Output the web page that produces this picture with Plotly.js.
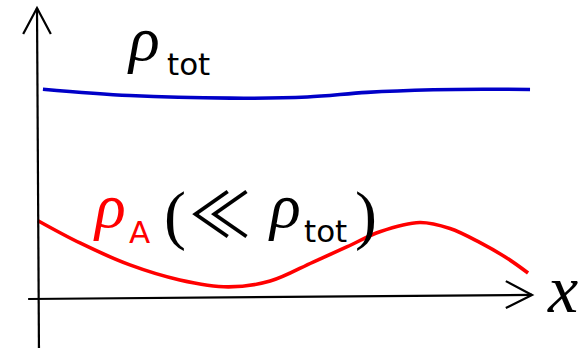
<!DOCTYPE html>
<html>
<head>
<meta charset="utf-8">
<script src="https://cdn.plot.ly/plotly-3.0.1.min.js"></script>
<style>
  html, body { margin: 0; padding: 0; background: #ffffff; }
  #chart { width: 586px; height: 348px; }
</style>
</head>
<body>
<div id="chart"></div>
<script>
// Position along x (arbitrary units, axis runs 0..10)
const totalX = [0.10, 1.86, 3.89, 5.45, 6.66, 8.00, 9.01, 9.96];
// Total density rho_tot: nearly flat
const totalDensity = [7.19, 6.97, 6.88, 6.92, 7.08, 7.17, 7.19, 7.18];

const speciesX = [0.00, 0.85, 1.86, 2.87, 3.85, 4.70, 5.57, 6.26, 6.92, 7.73, 8.34, 8.95, 9.49, 9.92];
// Density of species A, much smaller than rho_tot and varying
const speciesDensity = [2.64, 1.87, 1.11, 0.59, 0.35, 0.55, 1.21, 1.74, 2.26, 2.58, 2.37, 1.88, 1.35, 0.83];

const W = 586, H = 348;
const px = v => v / W;          // paper x from pixel column
const py = v => 1 - v / H;      // paper y from pixel row

const traces = [
  {
    x: totalX, y: totalDensity, type: 'scatter', mode: 'lines',
    line: { color: '#0000c8', width: 3.6, shape: 'spline', smoothing: 1 },
    hoverinfo: 'skip'
  },
  {
    x: speciesX, y: speciesDensity, type: 'scatter', mode: 'lines',
    line: { color: '#ff0000', width: 3.6, shape: 'spline', smoothing: 1 },
    hoverinfo: 'skip'
  }
];

const axisLine = { color: '#000000', width: 2.2 };
const shapes = [
  // horizontal axis and its open arrowhead
  { type: 'line', xref: 'x', yref: 'y', x0: -0.20, y0: -0.07, x1: 10.0, y1: 0.07, line: axisLine },
  { type: 'path', xref: 'x', yref: 'y', path: 'M 9.47 0.55 L 10.0 0.07 L 9.47 -0.38', line: axisLine },
  // vertical axis and its open arrowhead
  { type: 'line', xref: 'x', yref: 'y', x0: 0.02, y0: -1.9, x1: -0.02, y1: 10.0, line: axisLine },
  { type: 'path', xref: 'x', yref: 'y', path: 'M -0.30 9.1 L -0.02 10.0 L 0.26 9.1', line: axisLine }
];

const serifIt = 'Liberation Serif';
const sans = 'DejaVu Sans';
const thin = '"Noto Sans CJK JP", "Noto Sans CJK SC", "DejaVu Sans"';
function label(text, x, y, size, color, family, xanchor, weight) {
  return {
    xref: 'paper', yref: 'paper', x: px(x), y: py(y),
    xanchor: xanchor || 'center', yanchor: 'middle',
    text: text, showarrow: false, borderpad: 0,
    font: { family: family, size: size, color: color, weight: weight || 'normal' }
  };
}

const annotations = [
  label('<i>ρ</i>', 143, 39, 64, '#000000', serifIt),
  label('tot', 166, 64, 31, '#000000', sans, 'left'),
  label('<i>ρ</i>', 109, 205, 64, '#ff0000', serifIt),
  label('A', 128, 232, 31, '#ff0000', sans, 'left'),
  label('(', 175, 215, 66, '#000000', serifIt),
  label('≪', 220, 211, 62, '#000000', thin),
  label('<i>ρ</i>', 284, 205, 64, '#000000', serifIt),
  label('tot', 303, 231, 31, '#000000', sans, 'left'),
  label(')', 366, 215, 66, '#000000', serifIt),
  label('<i>x</i>', 562, 289, 68, '#000000', serifIt)
];

const layout = {
  width: W, height: H,
  margin: { l: 0, r: 0, t: 0, b: 0 },
  paper_bgcolor: '#ffffff', plot_bgcolor: '#ffffff',
  showlegend: false,
  xaxis: { range: [-0.769, 11.093], visible: false, fixedrange: true },
  yaxis: { range: [-1.765, 10.277], visible: false, fixedrange: true },
  shapes: shapes,
  annotations: annotations
};

Plotly.newPlot('chart', traces, layout, { staticPlot: true, displayModeBar: false });
</script>
</body>
</html>
